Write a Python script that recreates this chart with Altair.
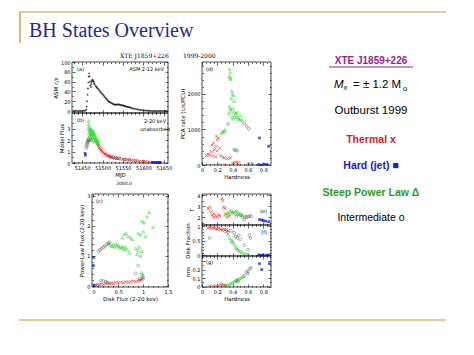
import altair as alt
import pandas as pd

# ---------------- data ----------------
# (a) ASM 2-12 keV light curve: (MJD, c/s)
asm_lc = [
    (51428, 0.5), (51431, -0.5), (51434, 0.8), (51437, 0.2), (51440, -0.8), (51443, 0.6), (51446, 0.0),
    (51449, -0.4), (51452, 0.9), (51455, 0.3), (51458, 1.0),
    (51460, 3), (51461, 9), (51462, 20), (51463, 33), (51464, 46), (51465, 58), (51466, 70), (51467, 77),
    (51468, 71), (51469, 60), (51470, 52), (51471, 49), (51472, 55), (51473, 59), (51474, 62), (51475, 64),
    (51476, 63), (51477, 61), (51478, 60), (51479, 57), (51480, 55),
    (51482, 52), (51484, 50), (51486, 48), (51488, 46), (51490, 44), (51492, 42), (51494, 40), (51496, 38),
    (51498, 36), (51500, 34), (51502, 32), (51504, 30), (51506, 28), (51508, 26), (51510, 24), (51512, 22),
    (51514, 20), (51516, 19), (51518, 18), (51520, 17), (51522, 16), (51524, 15), (51526, 14), (51528, 14),
    (51530, 13), (51532, 13), (51534, 13), (51536, 13), (51538, 14), (51540, 13), (51542, 13), (51544, 12),
    (51546, 12), (51548, 12), (51550, 11), (51552, 11), (51554, 10), (51556, 10), (51558, 9), (51560, 9),
    (51562, 8), (51564, 8), (51566, 7), (51568, 7), (51570, 6),
    (51573, 5), (51576, 5), (51579, 4), (51582, 4), (51585, 3), (51588, 3), (51591, 2.5), (51594, 2),
    (51597, 2), (51600, 1.5), (51603, 1), (51606, 1), (51609, 0.5), (51612, 0.5), (51615, 0.3), (51618, 0.2),
    (51621, 0), (51624, 0.3), (51627, -0.2), (51630, 0.1), (51633, 0), (51636, 0.2), (51639, -0.1),
    (51642, 0), (51645, 0.2), (51648, -0.2), (51651, 0.1), (51654, 0), (51657, 0.1),
]

# (b) model flux 2-20 keV vs MJD
b_hard = [(51457, 0.85), (51458, 0.68), (51621, 0.06), (51626, 0.05), (51630, 0.05), (51634, 0.04),
          (51638, 0.04), (51641, 0.05)]
b_inter = [(51460, 1.3), (51461, 1.5), (51462, 1.6), (51462.5, 1.75), (51463, 1.9), (51464, 1.85),
           (51465, 2.0), (51520, 0.55), (51526, 0.5), (51532, 0.45), (51537, 0.42), (51541, 0.4),
           (51546, 0.38), (51555, 0.3), (51565, 0.26), (51580, 0.2), (51600, 0.12)]
b_spl = [(51465, 2.2), (51465.5, 3.0), (51466, 3.7), (51466, 3.4), (51466.5, 2.6), (51467, 3.2), (51467, 2.1),
         (51468, 2.9), (51468, 2.4), (51469, 3.0), (51469, 2.0), (51470, 2.7), (51470, 2.3), (51471, 2.8),
         (51471, 2.1), (51472, 3.0), (51472, 2.5), (51473, 2.6), (51473, 2.0), (51474, 2.9), (51474, 2.3),
         (51475, 2.7), (51476, 2.2), (51476, 2.5), (51477, 2.8), (51478, 2.4), (51478, 2.0), (51479, 2.6),
         (51480, 2.2), (51481, 2.5), (51481, 1.9), (51482, 2.3), (51483, 2.0), (51484, 2.2), (51485, 1.9),
         (51486, 2.1), (51487, 1.8), (51488, 2.0), (51489, 1.7), (51490, 1.9), (51491, 1.6)]
b_thermal = [(51488, 1.6), (51490, 1.5), (51492, 1.35), (51494, 1.25), (51496, 1.15), (51498, 1.05),
             (51500, 0.98), (51502, 0.9), (51504, 0.85), (51506, 0.8), (51508, 0.75), (51510, 0.7),
             (51512, 0.66), (51514, 0.62), (51516, 0.58), (51518, 0.55), (51520, 0.52), (51522, 0.5),
             (51526, 0.46), (51530, 0.42), (51534, 0.4), (51538, 0.38), (51550, 0.33), (51555, 0.31),
             (51560, 0.3), (51565, 0.28), (51570, 0.25), (51575, 0.22), (51580, 0.2), (51585, 0.18),
             (51590, 0.15), (51595, 0.13), (51600, 0.12), (51605, 0.1), (51610, 0.08), (51615, 0.07)]

# (c) power-law flux vs disk flux
c_hard = [(0.0, 0.95), (0.0, 0.68), (0.01, 0.03)]
c_inter = [(0.1, 1.15), (0.13, 1.2), (0.16, 1.25), (0.2, 1.28), (0.23, 1.33), (0.27, 1.38), (0.3, 1.42),
           (0.33, 1.45), (0.9, 0.68), (0.85, 0.42), (0.98, 0.35), (0.93, 0.25), (0.15, 0.18), (0.2, 0.17),
           (0.25, 0.15), (0.28, 0.12)]
c_spl = [(0.35, 1.35), (0.38, 1.32), (0.4, 1.38), (0.42, 1.3), (0.45, 1.4), (0.47, 1.33), (0.5, 1.36),
         (0.52, 1.28), (0.55, 1.3), (0.58, 1.25), (0.6, 1.32), (0.62, 1.22), (0.65, 1.28), (0.68, 1.2),
         (0.58, 1.6), (0.62, 1.72), (0.66, 1.75), (0.7, 1.65), (0.75, 1.6), (0.78, 1.55), (0.72, 1.1),
         (0.85, 1.25), (0.88, 1.05), (0.9, 1.2), (0.92, 1.3), (0.95, 1.0), (0.97, 1.15), (0.9, 1.75),
         (0.95, 1.7), (1.0, 1.8), (0.98, 2.15), (1.02, 2.1), (1.05, 1.65), (1.08, 2.3), (1.12, 2.45),
         (1.2, 1.95), (0.97, 0.45), (1.0, 0.35), (0.99, 0.28), (0.3, 1.4)]
c_thermal = [(0.05, 0.03), (0.08, 0.05), (0.12, 0.04), (0.15, 0.06), (0.2, 0.05), (0.25, 0.08), (0.3, 0.1),
             (0.33, 0.07), (0.36, 0.1), (0.4, 0.09), (0.45, 0.12), (0.5, 0.1), (0.55, 0.12), (0.6, 0.11),
             (0.65, 0.14), (0.7, 0.13), (0.75, 0.15), (0.8, 0.16), (0.85, 0.15), (0.9, 0.18), (0.95, 0.2),
             (0.98, 0.22), (1.0, 0.25), (0.93, 0.2)]

# (d) PCA rate vs hardness
d_spl = [(0.36, 2700), (0.37, 2600), (0.355, 2500), (0.37, 2450), (0.375, 2420), (0.39, 2080), (0.4, 2000),
         (0.41, 1950), (0.38, 1880), (0.42, 1800), (0.36, 1650), (0.37, 1580), (0.38, 1520), (0.35, 1450),
         (0.4, 1600), (0.42, 1500), (0.44, 1450), (0.46, 1480), (0.43, 1400), (0.45, 1350), (0.47, 1330),
         (0.5, 1400), (0.48, 1280), (0.52, 1260), (0.5, 1300), (0.39, 1350), (0.41, 1300), (0.3, 1000),
         (0.27, 950), (0.25, 900)]
d_inter = [(0.34, 1150), (0.55, 1180), (0.58, 1100), (0.61, 1020), (0.29, 920), (0.42, 430), (0.44, 420),
           (0.46, 400), (0.48, 60), (0.63, 40), (0.66, 20), (0.6, 10)]
d_thermal = [(0.19, 810), (0.21, 760), (0.2, 700), (0.15, 620), (0.13, 560), (0.18, 520), (0.23, 480),
             (0.16, 430), (0.2, 400), (0.12, 380), (0.08, 300), (0.1, 280), (0.06, 270), (0.14, 250),
             (0.18, 230), (0.24, 260), (0.27, 230), (0.29, 200), (0.33, 180), (0.37, 200), (0.41, 60),
             (0.44, 80), (0.46, 40), (0.4, 20), (0.3, 10), (0.22, 15)]
d_hard = [(0.75, 760), (0.87, 530), (0.74, 10), (0.78, 5), (0.82, 20), (0.85, 10)]

# (e) photon index vs hardness
e_thermal = [(0.08, 2.8), (0.1, 2.9), (0.12, 2.5), (0.13, 2.2), (0.15, 2.0), (0.16, 2.3), (0.18, 2.1),
             (0.2, 2.0), (0.22, 2.2), (0.24, 2.1), (0.26, 3.7), (0.27, 3.5), (0.28, 2.9), (0.3, 2.8),
             (0.31, 2.3), (0.33, 2.0), (0.36, 2.1), (0.4, 2.4)]
e_spl = [(0.3, 2.2), (0.33, 2.4), (0.36, 2.5), (0.38, 2.6), (0.4, 2.5), (0.42, 2.4), (0.44, 2.5),
         (0.46, 2.3), (0.48, 2.4), (0.5, 2.3), (0.52, 2.2), (0.35, 2.3), (0.45, 2.6)]
e_inter = [(0.45, 2.1), (0.5, 2.2), (0.53, 2.0), (0.56, 2.1), (0.58, 2.0), (0.6, 2.05), (0.62, 2.1),
           (0.64, 2.1), (0.55, 1.8)]
e_hard = [(0.75, 1.8), (0.78, 1.75), (0.8, 1.7), (0.83, 1.65), (0.87, 1.6)]

# (f) disk fraction vs hardness
f_thermal = [(0.08, 0.95), (0.1, 0.97), (0.12, 0.93), (0.14, 0.96), (0.16, 0.94), (0.18, 0.92), (0.2, 0.9),
             (0.22, 0.93), (0.24, 0.9), (0.26, 0.88), (0.28, 0.91), (0.3, 0.87), (0.32, 0.89), (0.34, 0.85)]
f_inter = [(0.1, 0.6), (0.3, 0.82), (0.34, 0.8), (0.38, 0.85), (0.42, 0.78), (0.44, 0.65), (0.46, 0.6),
           (0.48, 0.7), (0.5, 0.55), (0.55, 0.35), (0.6, 0.2), (0.62, 0.7), (0.63, 0.6)]
f_spl = [(0.34, 0.72), (0.36, 0.6), (0.38, 0.52), (0.4, 0.45), (0.42, 0.38), (0.44, 0.3), (0.46, 0.22),
         (0.48, 0.18), (0.5, 0.14), (0.52, 0.1), (0.55, 0.07), (0.58, 0.05), (0.6, 0.03), (0.4, 0.5),
         (0.45, 0.25)]
f_hard = [(0.74, 0.02), (0.77, 0.01), (0.8, 0.02), (0.84, 0.01), (0.87, 0.02)]

# (g) rms vs hardness
g_thermal = [(0.1, 0.005), (0.14, 0.008), (0.18, 0.006), (0.22, 0.01), (0.26, 0.012), (0.28, 0.02),
             (0.3, 0.015), (0.32, 0.01)]
g_spl = [(0.3, 0.01), (0.33, 0.02), (0.36, 0.03), (0.38, 0.04), (0.4, 0.05), (0.42, 0.06), (0.44, 0.07),
         (0.46, 0.08), (0.48, 0.09), (0.5, 0.1), (0.52, 0.11), (0.54, 0.12)]
g_inter = [(0.25, 0.03), (0.45, 0.07), (0.47, 0.06), (0.55, 0.13), (0.58, 0.17), (0.6, 0.18), (0.62, 0.21),
           (0.64, 0.22), (0.6, 0.15)]
g_hard = [(0.75, 0.27), (0.78, 0.2), (0.88, 0.27)]

# tick values
mjd_major = [51450, 51500, 51550, 51600, 51650]
mjd_minor = [51430, 51440, 51460, 51470, 51480, 51490, 51510, 51520, 51530, 51540, 51560, 51570, 51580,
             51590, 51610, 51620, 51630, 51640]
hard_major = [0, 0.2, 0.4, 0.6, 0.8]
hard_minor = [0.05, 0.1, 0.15, 0.25, 0.3, 0.35, 0.45, 0.5, 0.55, 0.65, 0.7, 0.75, 0.85]
asm_major = [0, 20, 40, 60, 80, 100]
asm_minor = [10, 30, 50, 70, 90]
flux_major = [0, 1, 2, 3]
flux_minor = [0.5, 1.5, 2.5, 3.5]
disk_major = [0, 0.5, 1, 1.5]
disk_minor = [0.1, 0.2, 0.3, 0.4, 0.6, 0.7, 0.8, 0.9, 1.1, 1.2, 1.3, 1.4]
pl_major = [0, 1, 2, 3]
pl_minor = [0.2, 0.4, 0.6, 0.8, 1.2, 1.4, 1.6, 1.8, 2.2, 2.4, 2.6, 2.8]
rate_major = [0, 1000, 2000]
rate_minor = [200, 400, 600, 800, 1200, 1400, 1600, 1800, 2200, 2400, 2600, 2800]
gamma_major = [2, 3, 4]
gamma_minor = [1.5, 2.5, 3.5]
frac_major = [0, 0.5, 1]
frac_minor = [0.1, 0.2, 0.3, 0.4, 0.6, 0.7, 0.8, 0.9]
rms_major = [0, 0.1, 0.2, 0.3]
rms_minor = [0.05, 0.15, 0.25, 0.35]

# ---------------- styling ----------------
RED = "#ee1111"
GREEN = "#16d016"
BLUE = "#0000cc"
GRAY = "#444444"
GOLD = "#cfbf7a"
XPATH = "M-1,-1L1,1M-1,1L1,-1"

STYLE = {
    "asm": dict(shape="cross", filled=True, color="black", size=4),
    "thermal": dict(shape=XPATH, filled=False, color=RED, size=9, strokeWidth=0.8),
    "hard": dict(shape="square", filled=True, color=BLUE, size=7),
    "spl": dict(shape="triangle-up", filled=False, color=GREEN, size=9, strokeWidth=0.7),
    "inter": dict(shape="circle", filled=False, color=GRAY, size=8, strokeWidth=0.6),
}

one = pd.DataFrame({"k": [0]})
W, H = 474, 355


def tick_axis(orient, offset, values, size):
    return alt.Axis(orient=orient, offset=offset, values=values, labels=False, title=None, ticks=True,
                    tickSize=size, domain=False)


def panel(xdom, xrng, ydom, yrng, xlab, ylab, xticks, yticks, series):
    x0, x1 = xrng
    ybot, ytop = yrng
    xs = alt.Scale(domain=xdom, range=xrng, nice=False, zero=False)
    ys = alt.Scale(domain=ydom, range=yrng, nice=False, zero=False)
    frame_df = pd.DataFrame({"x": [xdom[0]], "x2": [xdom[1]], "y": [ydom[0]], "y2": [ydom[1]]})

    def frame(xaxis, yaxis, opacity):
        return alt.Chart(frame_df).mark_rect(fillOpacity=0, stroke="black", strokeWidth=0.7,
                                             strokeOpacity=opacity).encode(
            x=alt.X("x:Q", scale=xs, axis=xaxis), x2="x2:Q",
            y=alt.Y("y:Q", scale=ys, axis=yaxis), y2="y2:Q")

    layers = [frame(xlab, ylab, 1)]
    xmaj, xmin = xticks
    ymaj, ymin = yticks
    for vals, size in ((xmaj, 3), (xmin, 1.5)):
        layers.append(frame(tick_axis("top", -ybot, vals, size), None, 0))
        layers.append(frame(tick_axis("bottom", ytop - H, vals, size), None, 0))
    for vals, size in ((ymaj, 3), (ymin, 1.5)):
        layers.append(frame(None, tick_axis("right", x0 - W, vals, size), 0))
        layers.append(frame(None, tick_axis("left", -x1, vals, size), 0))
    for st, pts in series:
        df = pd.DataFrame(pts, columns=["x", "y"])
        layers.append(alt.Chart(df).mark_point(clip=False, **STYLE[st]).encode(
            x=alt.X("x:Q", scale=xs, axis=None), y=alt.Y("y:Q", scale=ys, axis=None)))
    return alt.layer(*layers).resolve_axis(x="independent", y="independent")


def laxis(x, values, title, fmt):
    return alt.Axis(orient="left", offset=-x, values=values, title=title, format=fmt, labelFlush=False,
                    ticks=False, labelPadding=2)


def baxis(y, values, title, fmt):
    return alt.Axis(orient="bottom", offset=y - H, values=values, title=title, format=fmt, labelFlush=False,
                    ticks=False, labelPadding=2)


def txt(s, x, y, size=5, color="black", font="DejaVu Sans", weight="normal", style="normal",
        align="left", baseline="middle"):
    return alt.Chart(one).mark_text(text=s, fontSize=size, color=color, font=font, fontWeight=weight,
                                    fontStyle=style, align=align, baseline=baseline).encode(
        x=alt.value(x), y=alt.value(y))


def hline(x0, x1, y, color, w):
    return alt.Chart(one).mark_rule(color=color, strokeWidth=w).encode(
        x=alt.value(x0), x2=alt.value(x1), y=alt.value(y))


def vline(x, y0, y1, color, w):
    return alt.Chart(one).mark_rule(color=color, strokeWidth=w).encode(
        x=alt.value(x), y=alt.value(y0), y2=alt.value(y1))


MJD_DOM = [51425, 51660]
HARD_DOM = [0, 0.9]

pa = panel(MJD_DOM, [72, 168], [-4, 100], [113, 62], None,
           laxis(72, asm_major, "ASM c/s", "d"), (mjd_major, mjd_minor), (asm_major, asm_minor),
           [("asm", asm_lc)])
pb = panel(MJD_DOM, [72, 168], [0, 4.4], [163, 113], baxis(163, mjd_major, "MJD", "d"),
           laxis(72, flux_major, "Model Flux", "d"), (mjd_major, mjd_minor), (flux_major, flux_minor),
           [("thermal", b_thermal), ("spl", b_spl), ("inter", b_inter), ("hard", b_hard)])
pc = panel([-0.03, 1.5], [92, 168], [-0.03, 3.05], [287, 194],
           baxis(287, disk_major, "Disk Flux (2-20 kev)", ".1~f"),
           laxis(92, pl_major, "Power-Law Flux (2-20 kev)", "d"), (disk_major, disk_minor),
           (pl_major, pl_minor),
           [("thermal", c_thermal), ("spl", c_spl), ("inter", c_inter), ("hard", c_hard)])
pd_ = panel(HARD_DOM, [202, 271], [0, 2900], [165, 62], baxis(165, hard_major, "Hardness", ".1~f"),
            laxis(202, rate_major, "PCA rate (c/s/PCU)", "d"), (hard_major, hard_minor),
            (rate_major, rate_minor),
            [("thermal", d_thermal), ("spl", d_spl), ("inter", d_inter), ("hard", d_hard)])
pe = panel(HARD_DOM, [202, 271], [1.3, 4.1], [225, 194], None, laxis(202, gamma_major, "Γ", "d"),
           (hard_major, hard_minor), (gamma_major, gamma_minor),
           [("thermal", e_thermal), ("spl", e_spl), ("inter", e_inter), ("hard", e_hard)])
pf = panel(HARD_DOM, [202, 271], [-0.02, 1.05], [256, 225], None,
           laxis(202, frac_major, "Disk Fraction", ".1~f"), (hard_major, hard_minor), (frac_major, frac_minor),
           [("thermal", f_thermal), ("spl", f_spl), ("inter", f_inter), ("hard", f_hard)])
pg = panel(HARD_DOM, [202, 271], [-0.005, 0.36], [287, 256], baxis(287, hard_major, "Hardness", ".1~f"),
           laxis(202, [0, 0.1, 0.2], "rms", ".1~f"), (hard_major, hard_minor), (rms_major, rms_minor),
           [("thermal", g_thermal), ("spl", g_spl), ("inter", g_inter), ("hard", g_hard)])

PURPLE = "#9c1f8e"
decor = [
    hline(19, 446, 12, GOLD, 1.5),
    vline(20, 12, 43, GOLD, 2),
    hline(19, 446, 320, GOLD, 1.5),
    txt("BH States Overview", 29, 37, size=20, color="#1f2a8a", font="Liberation Serif", baseline="alphabetic"),
    txt("XTE J1859+226", 120, 56, size=6, font="DejaVu Serif"),
    txt("1999-2000", 183, 56, size=6, font="DejaVu Serif"),
    txt("(a)", 77, 69), txt("ASM 2-12 keV", 164, 69, align="right"),
    txt("(b)", 77, 120), txt("2-20 keV", 155, 121, align="center"), txt("unabsorbed", 155, 129, align="center"),
    txt("2000.0", 124, 184, size=4.5, align="center"),
    txt("(c)", 96, 201), txt("(d)", 206, 69), txt("(e)", 267, 211, align="right"),
    txt("(f)", 267, 232, align="right"), txt("(g)", 206, 262),
    # right-hand text column
    txt("XTE J1859+226", 371, 61, size=10, color=PURPLE, font="Liberation Sans", weight="bold", align="center"),
    hline(329, 413, 67, PURPLE, 1),
    txt("M", 334, 88, size=11.5, font="Liberation Sans", style="italic", baseline="alphabetic"),
    txt("x", 343.5, 90, size=7.5, font="Liberation Sans", style="italic", baseline="alphabetic"),
    txt("= ± 1.2 M", 353, 88, size=11.5, font="Liberation Sans", baseline="alphabetic"),
    txt("o", 403, 91, size=7.5, font="Liberation Sans", baseline="alphabetic"),
    txt("Outburst 1999", 371, 111, size=11.5, font="Liberation Sans", align="center"),
    txt("Thermal  x", 371, 140, size=10.5, color="#e02020", font="Liberation Sans", weight="bold", align="center"),
    txt("Hard (jet)  ■", 371, 166, size=10.5, color="#1c1cc0", font="Liberation Sans", weight="bold", align="center"),
    txt("Steep Power Law  Δ", 371, 193, size=10.5, color="#2a9a2a", font="Liberation Sans", weight="bold",
        align="center"),
    txt("Intermediate  o", 371, 218, size=10.5, font="Liberation Sans", align="center"),
]

chart = alt.layer(pa, pb, pc, pd_, pe, pf, pg, *decor).resolve_scale(
    x="independent", y="independent").resolve_axis(x="independent", y="independent").properties(
    width=W, height=H, autosize=alt.AutoSizeParams(type="none"), padding=0, background="white"
).configure_view(stroke="transparent").configure_axis(
    labelFont="DejaVu Sans", labelFontSize=5, titleFont="DejaVu Sans", titleFontSize=5.5,
    titleFontWeight="normal", tickWidth=0.6, tickColor="black", labelColor="black",
    titleColor="black", domain=False, grid=False, titlePadding=2)

chart.save("out.html", embed_options={"renderer": "svg", "actions": False})
